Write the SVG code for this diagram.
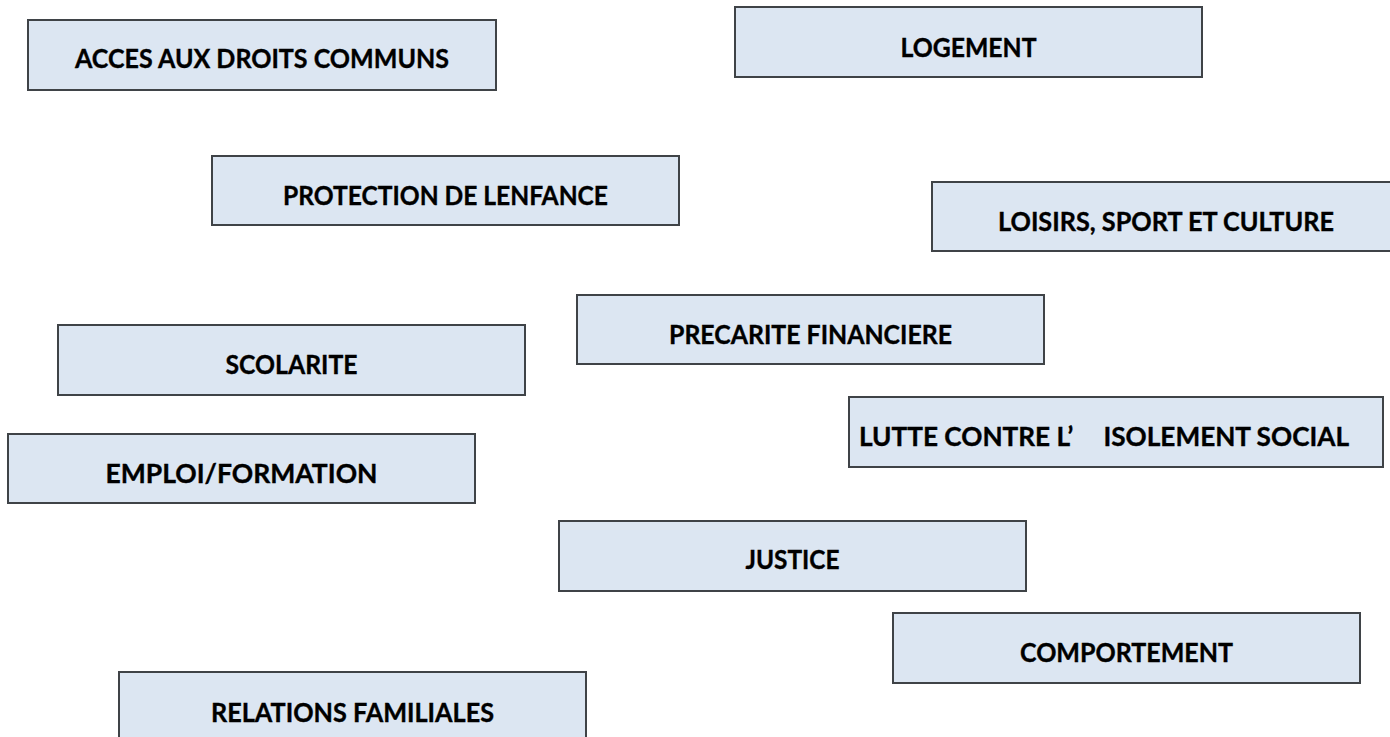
<svg xmlns="http://www.w3.org/2000/svg" width="1390" height="737" viewBox="0 0 1390 737">
  <style>
    .box { fill: #dce6f2; stroke: #3f4347; stroke-width: 2; }
    .lbl { font-family: "Lato", "Liberation Sans", sans-serif; font-weight: bold; font-size: 26px; fill: #000; stroke: #000; stroke-width: 0.35; text-anchor: middle; }
  </style>
  <rect width="1390" height="737" fill="#ffffff"/>
  <g id="connectors"/>
  <g id="n-acces">
    <rect class="box" x="28" y="20" width="468" height="70"/>
    <text class="lbl" x="262" y="68" textLength="374" lengthAdjust="spacingAndGlyphs">ACCES AUX DROITS COMMUNS</text>
  </g>
  <g id="n-logement">
    <rect class="box" x="735" y="7" width="467" height="70"/>
    <text class="lbl" x="968.5" y="57" textLength="136" lengthAdjust="spacingAndGlyphs">LOGEMENT</text>
  </g>
  <g id="n-protection">
    <rect class="box" x="212" y="156" width="467" height="69"/>
    <text class="lbl" x="445.5" y="205" textLength="325" lengthAdjust="spacingAndGlyphs">PROTECTION DE LENFANCE</text>
  </g>
  <g id="n-loisirs">
    <rect class="box" x="932" y="182" width="467" height="69"/>
    <text class="lbl" x="1166" y="231" textLength="336" lengthAdjust="spacingAndGlyphs">LOISIRS, SPORT ET CULTURE</text>
  </g>
  <g id="n-precarite">
    <rect class="box" x="577" y="295" width="467" height="69"/>
    <text class="lbl" x="810.5" y="344" textLength="283" lengthAdjust="spacingAndGlyphs">PRECARITE FINANCIERE</text>
  </g>
  <g id="n-scolarite">
    <rect class="box" x="58" y="325" width="467" height="70"/>
    <text class="lbl" x="291.5" y="374" textLength="132" lengthAdjust="spacingAndGlyphs">SCOLARITE</text>
  </g>
  <g id="n-lutte">
    <rect class="box" x="849" y="397" width="534" height="70"/>
    <text class="lbl" x="1104" y="446" textLength="490" lengthAdjust="spacingAndGlyphs">LUTTE CONTRE L’<tspan dx="30">ISOLEMENT SOCIAL</tspan></text>
  </g>
  <g id="n-emploi">
    <rect class="box" x="8" y="434" width="467" height="69"/>
    <text class="lbl" x="241.5" y="483" textLength="272" lengthAdjust="spacingAndGlyphs">EMPLOI/FORMATION</text>
  </g>
  <g id="n-justice">
    <rect class="box" x="559" y="521" width="467" height="70"/>
    <text class="lbl" x="792.5" y="569" textLength="94" lengthAdjust="spacingAndGlyphs">JUSTICE</text>
  </g>
  <g id="n-comportement">
    <rect class="box" x="893" y="613" width="467" height="70"/>
    <text class="lbl" x="1126.5" y="662" textLength="213" lengthAdjust="spacingAndGlyphs">COMPORTEMENT</text>
  </g>
  <g id="n-relations">
    <rect class="box" x="119" y="672" width="467" height="70"/>
    <text class="lbl" x="352.5" y="722" textLength="283" lengthAdjust="spacingAndGlyphs">RELATIONS FAMILIALES</text>
  </g>
</svg>
